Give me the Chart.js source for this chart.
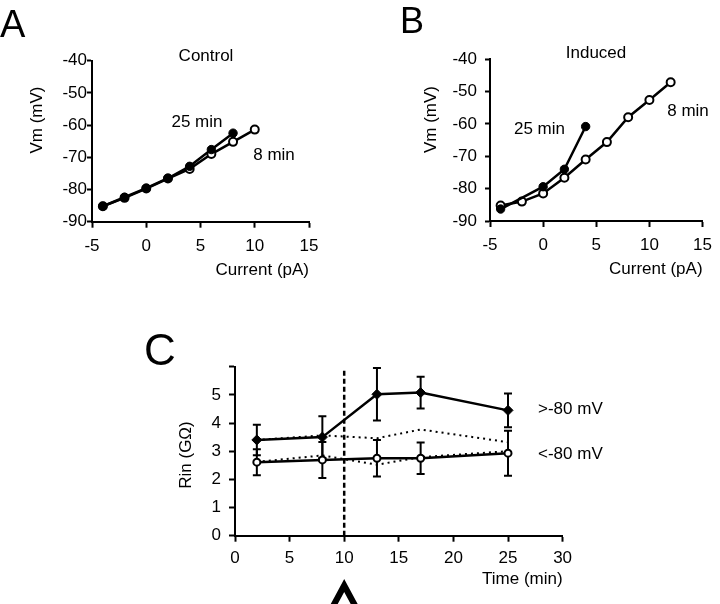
<!DOCTYPE html>
<html>
<head>
<meta charset="utf-8">
<script src="https://cdn.jsdelivr.net/npm/chart.js@4.4.1/dist/chart.umd.min.js"></script>
<style>
  body { margin: 0; background: #fff; }
  #wrap { position: relative; width: 720px; height: 604px; }
  #wrap canvas { position: absolute; left: 0; top: 0; }
</style>
</head>
<body>
<div id="wrap">
  <canvas id="chartA" width="720" height="604"></canvas>
  <canvas id="chartB" width="720" height="604"></canvas>
  <canvas id="chartC" width="720" height="604"></canvas>
</div>
<script>
// --- data ---
// A: Control
const currentA25 = [-4, -2, 0, 2, 4, 6, 8];
const vmA25 = [-85.2, -82.4, -79.6, -76.5, -72.8, -67.6, -62.5];
const currentA8 = [-4, -2, 0, 2, 4, 6, 8, 10];
const vmA8 = [-85.2, -82.6, -79.7, -76.6, -73.6, -69.0, -65.2, -61.4];

// B: Induced
const currentB25 = [-4, 0, 2, 4];
const vmB25 = [-86.3, -79.4, -74.0, -60.8];
const currentB8 = [-4, -2, 0, 2, 4, 6, 8, 10, 12];
const vmB8 = [-85.2, -84.0, -81.5, -76.6, -71.0, -65.6, -57.9, -52.6, -47.1];

// C: input resistance vs time
const timeC = [2, 8, 13, 17, 25];
const rinDepol = [3.40, 3.50, 5.02, 5.08, 4.45];   // >-80 mV
const semDepol = [0.54, 0.74, 0.93, 0.56, 0.60];
const rinHyper = [2.61, 2.69, 2.75, 2.75, 2.93];   // <-80 mV
const semHyper = [0.46, 0.64, 0.65, 0.56, 0.80];
const rinDepolDotted = [3.40, 3.56, 3.46, 3.77, 3.32];
const rinHyperDotted = [2.62, 2.85, 2.52, 2.79, 3.00];
const stimTime = 10;
const stimLine = [0, 5.95];

const xTicksIV = [-5, 0, 5, 10, 15];
const yTicksIV = [-90, -80, -70, -60, -50, -40];
const xTicksC = [0, 5, 10, 15, 20, 25, 30];
const yTicksC = [0, 1, 2, 3, 4, 5, 6];

const FONT = "'Liberation Sans', Arial, sans-serif";

function pts(xs, ys) {
  return xs.map((x, i) => ({ x: x, y: ys[i] }));
}

// fixed-size axis with outward ticks, like the original figure
function makeAxis(o) {
  return {
    type: "linear",
    min: o.ticks[0],
    max: o.ticks[o.ticks.length - 1],
    afterFit: (s) => {
      if (o.isX) s.height = o.size;
      else s.width = o.size;
    },
    afterBuildTicks: (s) => {
      s.ticks = o.ticks.map((v) => ({ value: v }));
    },
    border: { display: true, color: "#000", width: 2 },
    grid: {
      drawOnChartArea: false,
      drawTicks: true,
      tickLength: o.tickLength,
      tickWidth: 2,
      tickColor: "#000",
    },
    ticks: {
      padding: o.padding,
      color: "#000",
      font: { family: FONT, size: 17 },
      maxRotation: 0,
      autoSkip: false,
      callback: o.hide ? (v) => (o.hide.includes(v) ? "" : String(v)) : (v) => String(v),
    },
    title: o.title
      ? {
          display: true,
          text: o.title,
          align: "end",
          color: "#000",
          font: { family: FONT, size: 17 },
          padding: { top: 0, bottom: o.titlePad },
        }
      : { display: false },
  };
}

// free text (panel letters, titles, curve labels)
const textPlugin = {
  id: "panelText",
  afterDraw(chart, args, opts) {
    const ctx = chart.ctx;
    (opts.items || []).forEach((t) => {
      ctx.save();
      ctx.fillStyle = "#000";
      ctx.font = `${t.size || 17}px ${FONT}`;
      ctx.textAlign = t.align || "center";
      ctx.textBaseline = t.baseline || "middle";
      ctx.translate(t.x, t.y);
      if (t.rotate) ctx.rotate(t.rotate);
      ctx.fillText(t.text, 0, 0);
      ctx.restore();
    });
  },
};

// error bars for datasets carrying a sem array
const errorBarPlugin = {
  id: "errorBars",
  beforeDatasetsDraw(chart) {
    const { ctx } = chart;
    const xs = chart.scales.x, ys = chart.scales.y;
    chart.data.datasets.forEach((ds) => {
      if (!ds.sem) return;
      ctx.save();
      ctx.strokeStyle = "#000";
      ctx.lineWidth = 2;
      ds.data.forEach((p, i) => {
        const px = xs.getPixelForValue(p.x);
        const top = ys.getPixelForValue(p.y + ds.sem[i]);
        const bot = ys.getPixelForValue(p.y - ds.sem[i]);
        ctx.beginPath();
        ctx.moveTo(px, top); ctx.lineTo(px, bot);
        ctx.moveTo(px - 4, top); ctx.lineTo(px + 4, top);
        ctx.moveTo(px - 4, bot); ctx.lineTo(px + 4, bot);
        ctx.stroke();
      });
      ctx.restore();
    });
  },
};

// arrowhead under the stimulus time
const arrowPlugin = {
  id: "stimArrow",
  afterDraw(chart) {
    const ctx = chart.ctx;
    const x = chart.scales.x.getPixelForValue(stimTime);
    ctx.save();
    ctx.fillStyle = "#000";
    ctx.beginPath();
    ctx.moveTo(x, 579);
    ctx.lineTo(x + 14, 605);
    ctx.lineTo(x + 7, 605);
    ctx.lineTo(x, 592);
    ctx.lineTo(x - 7, 605);
    ctx.lineTo(x - 14, 605);
    ctx.closePath();
    ctx.fill();
    ctx.restore();
  },
};

const baseOptions = {
  responsive: false,
  devicePixelRatio: 1,
  animation: false,
  events: [],
};

function filledSet(data) {
  return {
    data: data, showLine: true, borderColor: "#000", borderWidth: 2.5,
    pointRadius: 4.2, pointBackgroundColor: "#000", pointBorderColor: "#000", pointBorderWidth: 1,
  };
}
function openSet(data) {
  return {
    data: data, showLine: true, borderColor: "#000", borderWidth: 2.5,
    pointRadius: 4, pointBackgroundColor: "#fff", pointBorderColor: "#000", pointBorderWidth: 2,
  };
}

// --- A ---
new Chart(document.getElementById("chartA"), {
  type: "scatter",
  data: { datasets: [filledSet(pts(currentA25, vmA25)), openSet(pts(currentA8, vmA8))] },
  options: {
    ...baseOptions,
    layout: { padding: { left: 0, top: 60.7, right: 411, bottom: 314 } },
    scales: {
      x: makeAxis({ isX: true, ticks: xTicksIV, size: 68.3, tickLength: 6, padding: 8, title: "Current (pA)", titlePad: 9 }),
      y: makeAxis({ ticks: yTicksIV, size: 92, tickLength: 5, padding: 0 }),
    },
    plugins: {
      legend: { display: false },
      tooltip: { enabled: false },
      panelText: {
        items: [
          { text: "A", x: 0, y: 37, size: 38, align: "left", baseline: "alphabetic" },
          { text: "Control", x: 206, y: 56 },
          { text: "Vm (mV)", x: 37, y: 120, rotate: -Math.PI / 2 },
          { text: "25 min", x: 197, y: 122 },
          { text: "8 min", x: 274, y: 155 },
        ],
      },
    },
  },
  plugins: [textPlugin],
});

// --- B ---
new Chart(document.getElementById("chartB"), {
  type: "scatter",
  data: { datasets: [filledSet(pts(currentB25, vmB25)), openSet(pts(currentB8, vmB8))] },
  options: {
    ...baseOptions,
    layout: { padding: { left: 400, top: 59.3, right: 12.3, bottom: 314 } },
    scales: {
      x: makeAxis({ isX: true, ticks: xTicksIV, size: 69, tickLength: 6, padding: 8, title: "Current (pA)", titlePad: 10 }),
      y: makeAxis({ ticks: yTicksIV, size: 90, tickLength: 5, padding: 8 }),
    },
    plugins: {
      legend: { display: false },
      tooltip: { enabled: false },
      panelText: {
        items: [
          { text: "B", x: 400, y: 33, size: 36, align: "left", baseline: "alphabetic" },
          { text: "Induced", x: 596, y: 53 },
          { text: "Vm (mV)", x: 431.5, y: 119.5, rotate: -Math.PI / 2 },
          { text: "25 min", x: 539.5, y: 129.5 },
          { text: "8 min", x: 688, y: 111.5 },
        ],
      },
    },
  },
  plugins: [textPlugin],
});

// --- C ---
new Chart(document.getElementById("chartC"), {
  type: "scatter",
  data: {
    datasets: [
      {
        data: pts(timeC, rinDepol), sem: semDepol, showLine: true,
        borderColor: "#000", borderWidth: 2.5,
        pointStyle: "rectRot", pointRadius: 5, pointBackgroundColor: "#000", pointBorderColor: "#000", pointBorderWidth: 1,
      },
      {
        data: pts(timeC, rinHyper), sem: semHyper, showLine: true,
        borderColor: "#000", borderWidth: 2.5,
        pointRadius: 3.5, pointBackgroundColor: "#fff", pointBorderColor: "#000", pointBorderWidth: 2,
      },
      {
        data: pts(timeC, rinDepolDotted), showLine: true,
        borderColor: "#000", borderWidth: 2, borderDash: [2, 4], pointRadius: 0,
      },
      {
        data: pts(timeC, rinHyperDotted), showLine: true,
        borderColor: "#000", borderWidth: 2, borderDash: [2, 4], pointRadius: 0,
      },
      {
        data: pts([stimTime, stimTime], stimLine), showLine: true,
        borderColor: "#000", borderWidth: 2.5, borderDash: [5, 3], pointRadius: 0,
      },
    ],
  },
  options: {
    ...baseOptions,
    layout: { padding: { left: 160, top: 366.7, right: 157.4, bottom: 0 } },
    scales: {
      x: makeAxis({ isX: true, ticks: xTicksC, size: 68.3, tickLength: 6, padding: 6, title: "Time (min)", titlePad: 14 }),
      y: makeAxis({ ticks: yTicksC, size: 75, tickLength: 6, padding: 8, hide: [6] }),
    },
    plugins: {
      legend: { display: false },
      tooltip: { enabled: false },
      panelText: {
        items: [
          { text: "C", x: 144, y: 365, size: 44, align: "left", baseline: "alphabetic" },
          { text: "Rin (G\u03A9)", x: 186.5, y: 455, rotate: -Math.PI / 2 },
          { text: ">-80 mV", x: 538, y: 409.5, align: "left" },
          { text: "<-80 mV", x: 538, y: 454.5, align: "left" },
        ],
      },
    },
  },
  plugins: [textPlugin, errorBarPlugin, arrowPlugin],
});
</script>
</body>
</html>
